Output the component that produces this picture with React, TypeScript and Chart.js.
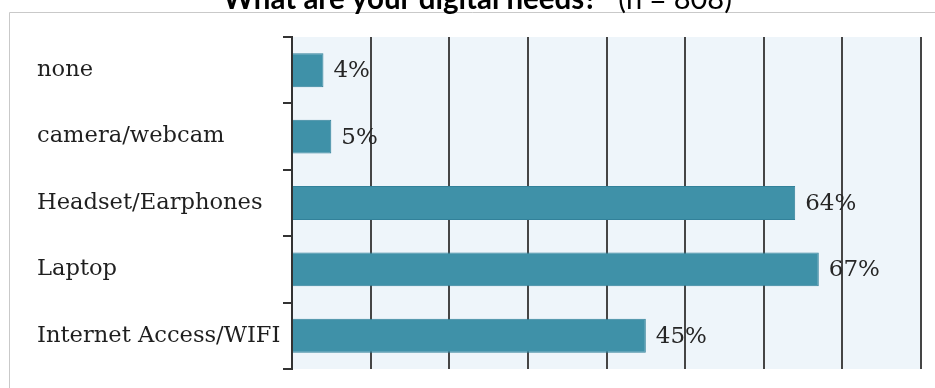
import React, { useEffect, useRef } from "react";
import { Chart, registerables } from "chart.js";

Chart.register(...registerables);

const categories = ["none", "camera/webcam", "Headset/Earphones", "Laptop", "Internet Access/WIFI"];
const values = [4, 5, 64, 67, 45];
const titleMain = "What are your digital needs?";
const titleSub = "(n = 808)";
const xMin = 0;
const xMax = 80;
const xStep = 10;

const W = 935;
const H = 388;

const framePlugin = {
  id: "framePlugin",
  beforeDraw(chart: any) {
    const { ctx, chartArea } = chart;
    ctx.save();
    ctx.fillStyle = "#ffffff";
    ctx.fillRect(0, 0, chart.width, chart.height);
    // outer frame
    ctx.strokeStyle = "#c9c9c9";
    ctx.lineWidth = 1;
    ctx.beginPath();
    ctx.moveTo(9.5, chart.height + 5);
    ctx.lineTo(9.5, 12.5);
    ctx.lineTo(chart.width + 5, 12.5);
    ctx.stroke();
    // plot background
    ctx.fillStyle = "#EEF5FA";
    ctx.fillRect(chartArea.left, chartArea.top, chartArea.right - chartArea.left, chartArea.bottom - chartArea.top);
    // title (cropped at top)
    const boldFont = "bold 29.5px Lato, 'Open Sans', sans-serif";
    const normFont = "29px Lato, 'Open Sans', sans-serif";
    ctx.font = boldFont;
    const w1 = ctx.measureText(titleMain).width;
    ctx.font = normFont;
    const gap = 21;
    const w2 = ctx.measureText(titleSub).width;
    const total = w1 + gap + w2;
    const cx = 477.5;
    const x0 = cx - total / 2;
    ctx.fillStyle = "#000000";
    ctx.textBaseline = "alphabetic";
    ctx.textAlign = "left";
    ctx.font = boldFont;
    ctx.fillText(titleMain, x0, 8.5);
    ctx.font = normFont;
    ctx.fillText(titleSub, x0 + w1 + gap, 8.5);
    ctx.restore();
  },
  afterDatasetsDraw(chart: any) {
    const { ctx } = chart;
    const meta = chart.getDatasetMeta(0);
    ctx.save();
    ctx.font = "23px 'DejaVu Serif', serif";
    ctx.fillStyle = "#262626";
    ctx.textBaseline = "middle";
    ctx.textAlign = "left";
    meta.data.forEach((bar: any, i: number) => {
      ctx.fillText(values[i] + "%", bar.x + 10, bar.y + 1);
    });
    ctx.restore();
  },
};

export default function App() {
  const ref = useRef<HTMLCanvasElement | null>(null);
  useEffect(() => {
    if (!ref.current) return;
    const chart = new Chart(ref.current, {
      type: "bar",
      data: {
        labels: categories,
        datasets: [
          {
            data: values,
            backgroundColor: "#3F91A8",
            borderColor: "#32819A",
            borderWidth: 1,
            barPercentage: 0.51,
            categoryPercentage: 1.0,
          },
        ],
      },
      options: {
        indexAxis: "y",
        responsive: false,
        animation: false,
        devicePixelRatio: 1,
        layout: { padding: { left: 37, top: 37, right: 14, bottom: 19 } },
        plugins: {
          legend: { display: false },
          title: { display: false },
          tooltip: { enabled: false },
        },
        scales: {
          x: {
            type: "linear",
            min: xMin,
            max: xMax,
            ticks: { stepSize: xStep, display: false },
            grid: { color: "#454545", lineWidth: 2, drawTicks: false },
            border: { display: false },
            afterFit: (s: any) => {
              s.height = 0;
            },
          },
          y: {
            type: "category",
            grid: {
              drawOnChartArea: false,
              drawTicks: true,
              tickLength: 9,
              color: "#333333",
              lineWidth: 2,
              offset: true,
            },
            border: { display: true, color: "#333333", width: 2 },
            ticks: {
              crossAlign: "far",
              color: "#1f1f1f",
              font: { family: "'DejaVu Serif', serif", size: 22.6 },
            },
            afterFit: (s: any) => {
              s.width = 255;
            },
          },
        },
      },
      plugins: [framePlugin],
    } as any);
    return () => chart.destroy();
  }, []);
  return (
    <div style={{ position: "fixed", left: 0, top: 0, width: W, height: H, background: "#fff" }}>
      <canvas ref={ref} width={W} height={H} style={{ width: W, height: H, display: "block" }} />
    </div>
  );
}
